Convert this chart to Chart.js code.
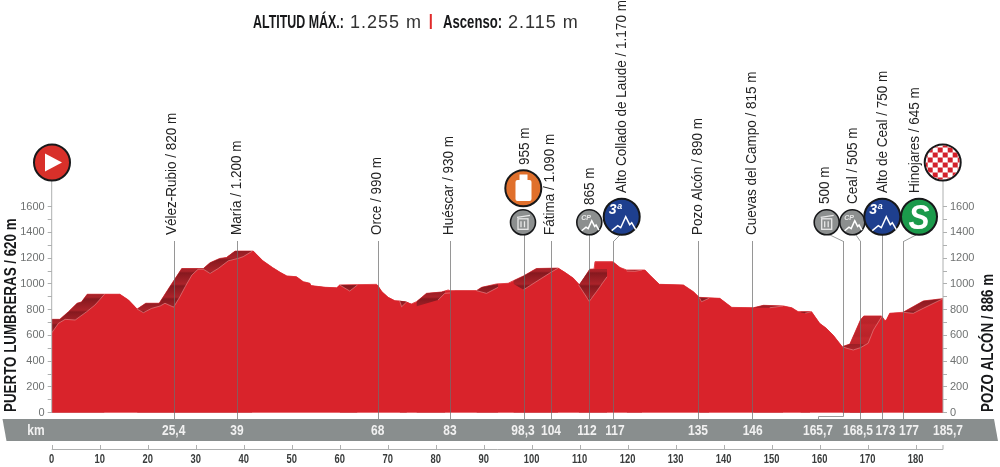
<!DOCTYPE html>
<html>
<head>
<meta charset="utf-8">
<style>
  html, body { margin: 0; padding: 0; background: #fff; }
  canvas { display: block; }
</style>
<script src="https://cdn.jsdelivr.net/npm/chart.js@4"></script>
</head>
<body>
<canvas id="perfil" width="1000" height="467"></canvas>
<script>
const totalKm = 185.7;
const altTicks = [0, 200, 400, 600, 800, 1000, 1200, 1400, 1600];

// silueta trasera del perfil
const backKm = [0, 1.7, 3.5, 5.3, 6.2, 7.4, 14.2, 16, 17.8, 19.6, 22.4, 24.6, 27.1, 31.6, 33, 35, 36.4, 38.2, 42, 44, 46, 47.6, 49, 51, 52.4, 53.8, 54, 57, 59.4, 60, 67.7, 68.8, 70.1, 71.5, 73.6, 74.9, 76, 78.1, 81.2, 82.6, 83, 88.5, 89.6, 92.7, 95.1, 96.2, 98.3, 101, 105.5, 107, 108.7, 110, 112.1, 113, 113.2, 116.9, 118.4, 119.8, 123.6, 124.6, 126.6, 131.6, 133.7, 134.9, 139.2, 141.7, 146.2, 148.3, 152.4, 154.2, 155.5, 158.3, 160, 161.4, 162.8, 164.7, 166.3, 168.5, 169.2, 172.9, 173.6, 173.9, 174.6, 177.4, 181.6, 185.7];
const backAlt = [725, 725, 785, 850, 860, 920, 920, 875, 805, 850, 850, 978, 1120, 1120, 1165, 1198, 1205, 1255, 1255, 1180, 1128, 1090, 1062, 1056, 1018, 1005, 987, 974, 970, 992, 997, 940, 896, 870, 862, 844, 862, 927, 937, 953, 948, 948, 974, 1000, 1005, 1025, 1062, 1120, 1123, 1088, 1044, 992, 1114, 1116, 1173, 1173, 1128, 1108, 1108, 1069, 997, 992, 940, 896, 888, 818, 815, 834, 829, 815, 785, 785, 694, 655, 603, 513, 533, 720, 751, 751, 715, 720, 772, 780, 868, 886];

// cara delantera, la que pasa por las cotas de paso
const frontKm = [0, 1.4, 2.8, 4.9, 7.3, 9, 11, 14.2, 16, 17.8, 19.1, 20.8, 22.6, 23.6, 25.4, 26.7, 27.8, 29.2, 30.5, 31.6, 33, 34.7, 36.8, 39, 39.9, 41.8, 42, 44, 46, 47.6, 49, 51, 52.4, 53.8, 54, 57, 59.4, 60, 62.1, 63.7, 68, 68.8, 70.1, 71.5, 72.5, 72.9, 74, 74.9, 75.7, 80.5, 81.9, 83, 84, 88.5, 90.6, 93, 94, 96, 98.3, 104, 105.5, 107, 108.7, 109.8, 112, 113.5, 115.7, 117, 118.4, 119.8, 121.5, 123, 123.6, 124.6, 126.6, 131.6, 133.7, 135, 135.4, 137, 139.2, 141.7, 146, 149.6, 152.4, 154.2, 155.5, 157, 158.3, 160, 161.4, 162.8, 164.7, 165.7, 167, 168.5, 170.1, 171.2, 173, 173.6, 173.9, 174.6, 176.6, 177, 177.3, 177.4, 179.5, 181.6, 185.7];
const frontAlt = [620, 694, 725, 720, 785, 836, 920, 920, 875, 805, 777, 810, 829, 850, 820, 900, 978, 1069, 1114, 1114, 1082, 1120, 1180, 1200, 1212, 1255, 1255, 1180, 1128, 1090, 1062, 1056, 1018, 1005, 987, 974, 970, 992, 945, 992, 990, 940, 896, 870, 870, 823, 862, 844, 823, 875, 927, 930, 948, 948, 927, 974, 1000, 1005, 955, 1090, 1123, 1088, 1044, 992, 865, 940, 1056, 1170, 1128, 1100, 1098, 1108, 1108, 1069, 997, 992, 940, 890, 862, 890, 888, 818, 815, 815, 829, 815, 785, 773, 785, 694, 655, 603, 513, 500, 487, 505, 539, 642, 750, 715, 720, 772, 775, 645, 775, 780, 772, 811, 886];

// tramos de subida rayados, null corta el tramo
const climbKm = [0, 1.7, 3.5, 5.3, 6.2, 7.4, 11, 11, 17.8, 19.6, 22.4, 24.6, 27.1, 31.6, 33, 35, 36.4, 38.2, 41.8, 41.8, 60, 63.7, 63.7, 72.5, 74, 74, 76, 78.1, 81.2, 82, 82, 88.5, 89.6, 93, 93, 96.2, 98.3, 101, 105.5, 105.5, 109.8, 112.1, 115.7, 115.7, 119.8, 123, 123, 134.9, 137, 137, 146.2, 148.3, 152.4, 152.4, 156, 158, 158, 164.7, 166.3, 169.2, 169.2, 177.4, 181.6, 185.7];
const climbAlt = [725, 725, 785, 850, 860, 920, 920, null, 805, 850, 850, 978, 1120, 1120, 1165, 1198, 1205, 1255, 1255, null, 992, 992, null, 870, 862, null, 862, 927, 937, 945, null, 948, 974, 1000, null, 1025, 1062, 1120, 1123, null, 992, 1114, 1116, null, 1108, 1108, null, 896, 890, null, 815, 834, 829, null, 785, 785, null, 513, 533, 531, null, 780, 868, 886];

// subida a Ceal, rayado más claro
const rampKm = [166.3, 168.5, 169.2, 172.9];
const rampAlt = [533, 720, 751, 751];

const passNames = ['Vélez-Rubio', 'María', 'Orce', 'Huéscar', '', 'Fátima', '', 'Alto Collado de Laude', 'Pozo Alcón', 'Cuevas del Campo', '', 'Ceal', 'Alto de Ceal', 'Hinojares'];
const passAlt = ['820', '1.200', '990', '930', '955', '1.090', '865', '1.170', '890', '815', '500', '505', '750', '645'];
const passKm = ['25,4', '39', '68', '83', '98,3', '104', '112', '117', '135', '146', '165,7', '168,5', '173', '177'];

const RED = '#d9232b';
const SANS = '"Liberation Sans", sans-serif';

const toPoints = (xs, ys) => xs.map((x, i) => ({ x: x, y: ys[i] }));

function stripes(top, bottom) {
  const cell = document.createElement('canvas');
  cell.width = 4;
  cell.height = 13;
  const c = cell.getContext('2d');
  const g = c.createLinearGradient(0, 0, 0, 13);
  g.addColorStop(0, top);
  g.addColorStop(0.85, bottom);
  g.addColorStop(1, top);
  c.fillStyle = g;
  c.fillRect(0, 0, 4, 13);
  return document.getElementById('perfil').getContext('2d').createPattern(cell, 'repeat');
}

function inClimb(km) {
  for (let i = 0; i < climbKm.length - 1; i++) {
    if (climbAlt[i] !== null && climbAlt[i + 1] !== null && km >= climbKm[i] - 0.01 && km < climbKm[i + 1]) return true;
  }
  return km >= 166.3 && km < 173;
}

// squeeze estrecha el texto a lo largo, no hay fuente condensada instalada
function label(c, text, x, y, font, color, align, rot, squeeze) {
  c.save();
  c.translate(x, y);
  if (rot) c.rotate(-Math.PI / 2);
  c.scale(squeeze || 1, 1);
  c.font = font;
  c.fillStyle = color;
  c.textAlign = align || 'left';
  c.textBaseline = rot ? 'middle' : 'alphabetic';
  c.fillText(text, 0, 0);
  c.restore();
}

function disc(c, x, y, r, fill) {
  c.beginPath();
  c.arc(x, y, r, 0, Math.PI * 2);
  c.fillStyle = fill;
  c.fill();
  c.lineWidth = r > 15 ? 2 : 1.6;
  c.strokeStyle = '#17181a';
  c.stroke();
}

function peakLine(c, x, y, s) {
  c.beginPath();
  c.moveTo(x - 12 * s, y + 9 * s);
  c.lineTo(x - 6 * s, y + 4 * s);
  c.lineTo(x - 3 * s, y + 6 * s);
  c.lineTo(x + 2 * s, y - 5 * s);
  c.lineTo(x + 6 * s, y + 3 * s);
  c.lineTo(x + 8 * s, y + 1 * s);
  c.lineTo(x + 12 * s, y + 8 * s);
  c.strokeStyle = '#fff';
  c.lineWidth = 1.5;
  c.stroke();
}

function bin(c, x, y) {
  disc(c, x, y, 12.5, '#8c8f8f');
  c.strokeStyle = '#e8e8e8';
  c.lineWidth = 1.3;
  c.strokeRect(x - 5, y - 3.5, 10, 10.5);
  c.beginPath();
  c.moveTo(x - 2, y - 1); c.lineTo(x - 2, y + 5);
  c.moveTo(x + 1.5, y - 1); c.lineTo(x + 1.5, y + 5);
  c.moveTo(x - 6, y - 5); c.lineTo(x + 7, y - 7);
  c.stroke();
}

function sprint(c, x, y) {
  disc(c, x, y, 12.5, '#8c8f8f');
  peakLine(c, x + 1, y + 2, 0.72);
  label(c, 'CP', x - 8, y - 2, 'italic bold 7px ' + SANS, '#e8e8e8');
}

function category(c, x, y) {
  disc(c, x, y, 18, '#1e3f8e');
  peakLine(c, x + 2, y + 5, 1);
  label(c, '3ª', x - 13, y - 3, 'italic bold 14px ' + SANS, '#fff');
}

const drawStage = {
  id: 'drawStage',
  afterDraw(chart) {
    const c = chart.ctx;
    const xs = chart.scales.x;
    const ys = chart.scales.y;
    const base = ys.getPixelForValue(0);
    const topAxis = 180;
    const bandFont = 'bold 15px ' + SANS;

    // título
    label(c, 'ALTITUD MÁX.:', 253, 28, 'bold 18px ' + SANS, '#17181a', 'left', false, 0.69);
    c.save();
    c.letterSpacing = '1px';
    label(c, '1.255 m', 350, 28, '18px ' + SANS, '#333');
    label(c, '2.115 m', 508, 28, '18px ' + SANS, '#333');
    c.restore();
    label(c, 'Ascenso:', 443, 28, 'bold 18px ' + SANS, '#17181a', 'left', false, 0.73);
    c.fillStyle = '#e02a2a';
    c.fillRect(429.8, 14, 2, 15);

    // ejes verticales hasta los iconos de salida y meta
    c.strokeStyle = '#aeb0b0';
    c.lineWidth = 1;
    c.beginPath();
    c.moveTo(chart.chartArea.left, topAxis); c.lineTo(chart.chartArea.left, base);
    c.moveTo(chart.chartArea.right, topAxis); c.lineTo(chart.chartArea.right, base);
    c.stroke();

    // banda gris de kilómetros
    c.fillStyle = '#898e8e';
    c.beginPath();
    c.moveTo(2.5, 419); c.lineTo(994, 419); c.lineTo(998, 441); c.lineTo(6.5, 441);
    c.closePath();
    c.fill();
    label(c, 'km', 36, 435, bandFont, '#f1f1f1', 'center', false, 0.8);

    // líneas de paso
    const leaderKm = [25.4, 38.6, 68, 83, 98.3, 104, 112, 117, 134.7, 146, 164.9, 168.5, 173, 177.3];
    const leaderTop = [241, 241, 241, 241, 235, 241, 235, 241, 241, 241, 241, 241, 232, 241];
    c.strokeStyle = 'rgba(110,110,110,.72)';
    c.lineWidth = 1;
    c.beginPath();
    leaderKm.forEach((km, i) => {
      const x = Math.round(xs.getPixelForValue(km)) + 0.5;
      c.moveTo(x, leaderTop[i]);
      c.lineTo(x, i === 10 ? 416.5 : 419);
    });
    c.stroke();
    c.strokeStyle = '#9a9d9d';
    c.beginPath();
    // quiebros hacia los iconos desplazados
    const elbow = (km, x2) => {
      const x = Math.round(xs.getPixelForValue(km)) + 0.5;
      c.moveTo(x, 241.5);
      c.lineTo(x2, 235);
    };
    elbow(117, 620);
    elbow(164.9, 830);
    elbow(168.5, 856);
    elbow(177.3, 916);
    const gx = Math.round(xs.getPixelForValue(164.9)) + 0.5;
    c.moveTo(gx, 416.5); c.lineTo(818.5, 416.5); c.lineTo(818.5, 419);
    c.stroke();

    // km sobre la banda
    const kmX = [173.7, 237, 377.7, 450, 523, 551, 587, 615, 698, 752.7, 818, 858, 885.5, 909];
    passKm.forEach((t, i) => label(c, t, kmX[i], 435, bandFont, '#f1f1f1', 'center', false, 0.8));
    label(c, '185,7', 948, 435, bandFont, '#f1f1f1', 'center', false, 0.8);

    // regla inferior
    c.strokeStyle = '#aeb0b0';
    c.beginPath();
    c.moveTo(xs.left, 449.5); c.lineTo(xs.right, 449.5);
    xs.ticks.forEach(t => {
      const x = Math.round(xs.getPixelForValue(t.value)) + 0.5;
      c.moveTo(x, 445); c.lineTo(x, 449.5);
    });
    c.moveTo(xs.right, 445); c.lineTo(xs.right, 449.5);
    c.stroke();
    xs.ticks.forEach(t => {
      label(c, String(t.value), xs.getPixelForValue(t.value), 463, 'bold 13px ' + SANS, '#3a3d3d', 'center', false, 0.72);
    });

    // nombres en vertical
    const nameX = [172, 237, 377, 449, 525, 550, 590, 622, 698, 752, 825, 853, 883, 915];
    const nameY = [235, 235, 235, 235, 165, 235, 205, 193, 235, 235, 204, 204, 193, 193];
    passNames.forEach((n, i) => {
      const t = (n ? n + ' / ' : '') + passAlt[i] + ' m';
      label(c, t, nameX[i], nameY[i], '15px ' + SANS, '#222', 'left', true, 0.9);
    });

    label(c, 'PUERTO LUMBRERAS / 620 m', 11, 412, 'bold 16.5px ' + SANS, '#17181a', 'left', true, 0.81);
    label(c, 'POZO ALCÓN / 886 m', 988, 412, 'bold 16.5px ' + SANS, '#17181a', 'left', true, 0.81);

    // salida
    disc(c, 52, 162.5, 18, '#d8302a');
    c.fillStyle = '#fff';
    c.beginPath();
    c.moveTo(45, 153.5); c.lineTo(62, 162.5); c.lineTo(45, 171.5);
    c.closePath();
    c.fill();

    // meta a cuadros
    disc(c, 942.7, 162.5, 18, '#fff');
    c.save();
    c.beginPath();
    c.arc(942.7, 162.5, 17, 0, Math.PI * 2);
    c.clip();
    c.fillStyle = '#d3202a';
    for (let i = -4; i < 4; i++) {
      for (let j = -4; j < 4; j++) {
        if ((i + j) % 2 === 0) c.fillRect(942.7 + i * 5, 162.5 + j * 5, 5, 5);
      }
    }
    c.restore();

    // avituallamiento
    disc(c, 523.3, 188.3, 18, '#e0702c');
    c.fillStyle = '#fff';
    c.beginPath();
    c.roundRect(515.5, 180, 16, 21, 2);
    c.fill();
    c.fillRect(519.5, 174.5, 8, 7);

    bin(c, 523, 222.3);
    sprint(c, 589.3, 222.3);
    category(c, 621.7, 216.7);
    bin(c, 826.7, 222.3);
    sprint(c, 852.3, 222.3);
    category(c, 882.3, 216.7);

    // meta volante
    disc(c, 919, 216.7, 18, '#1b9a4b');
    label(c, 'S', 919, 229, 'italic bold 35px ' + SANS, '#fff', 'center', false, 0.9);
  }
};

new Chart(document.getElementById('perfil'), {
  type: 'line',
  data: {
    datasets: [
      // filete claro de la cara delantera, solo en las subidas
      {
        data: toPoints(frontKm, frontAlt),
        order: 0,
        fill: false,
        borderWidth: 1,
        segment: {
          borderColor: ctx => inClimb(ctx.p0.parsed.x) ? 'rgba(240,165,165,.5)' : 'transparent'
        },
        pointRadius: 0,
        tension: 0
      },
      {
        data: toPoints(frontKm, frontAlt),
        order: 1,
        fill: 'origin',
        backgroundColor: RED,
        borderWidth: 0,
        pointRadius: 0,
        tension: 0
      },
      {
        data: toPoints(climbKm, climbAlt),
        order: 2,
        fill: 'origin',
        backgroundColor: stripes('#86191f', '#ab232a'),
        borderWidth: 0,
        pointRadius: 0,
        spanGaps: false,
        tension: 0
      },
      {
        data: toPoints(rampKm, rampAlt),
        order: 3,
        fill: 'origin',
        backgroundColor: stripes('#c4272e', '#b92329'),
        borderWidth: 0,
        pointRadius: 0,
        tension: 0
      },
      {
        data: toPoints(backKm, backAlt),
        order: 4,
        fill: 'origin',
        backgroundColor: RED,
        borderWidth: 1,
        borderColor: '#e0454b',
        pointRadius: 0,
        tension: 0
      }
    ]
  },
  options: {
    responsive: false,
    animation: false,
    layout: { padding: { top: 206.7, bottom: 0 } },
    plugins: { legend: { display: false }, tooltip: { enabled: false } },
    scales: {
      x: {
        type: 'linear',
        min: 0,
        max: totalKm,
        grid: { display: false },
        border: { display: false },
        afterFit(scale) { scale.height = 54.3; },
        ticks: {
          display: false,
          stepSize: 10,
          includeBounds: false,
          autoSkip: false
        }
      },
      y: {
        min: 0,
        max: 1600,
        afterFit(scale) { scale.width = 51.7; },
        border: { display: false },
        grid: { drawOnChartArea: false, color: '#aeb0b0', tickLength: 4 },
        ticks: {
          stepSize: 100,
          autoSkip: false,
          padding: 3,
          color: '#6f7272',
          font: { family: SANS, size: 11 },
          callback: v => altTicks.includes(v) ? String(v) : ''
        }
      },
      yRight: {
        position: 'right',
        min: 0,
        max: 1600,
        afterFit(scale) { scale.width = 57; },
        border: { display: false },
        grid: { drawOnChartArea: false, color: '#aeb0b0', tickLength: 4 },
        ticks: {
          stepSize: 100,
          autoSkip: false,
          padding: 3,
          color: '#6f7272',
          font: { family: SANS, size: 11 },
          callback: v => altTicks.includes(v) ? String(v) : ''
        }
      }
    }
  },
  plugins: [drawStage]
});
</script>
</body>
</html>
